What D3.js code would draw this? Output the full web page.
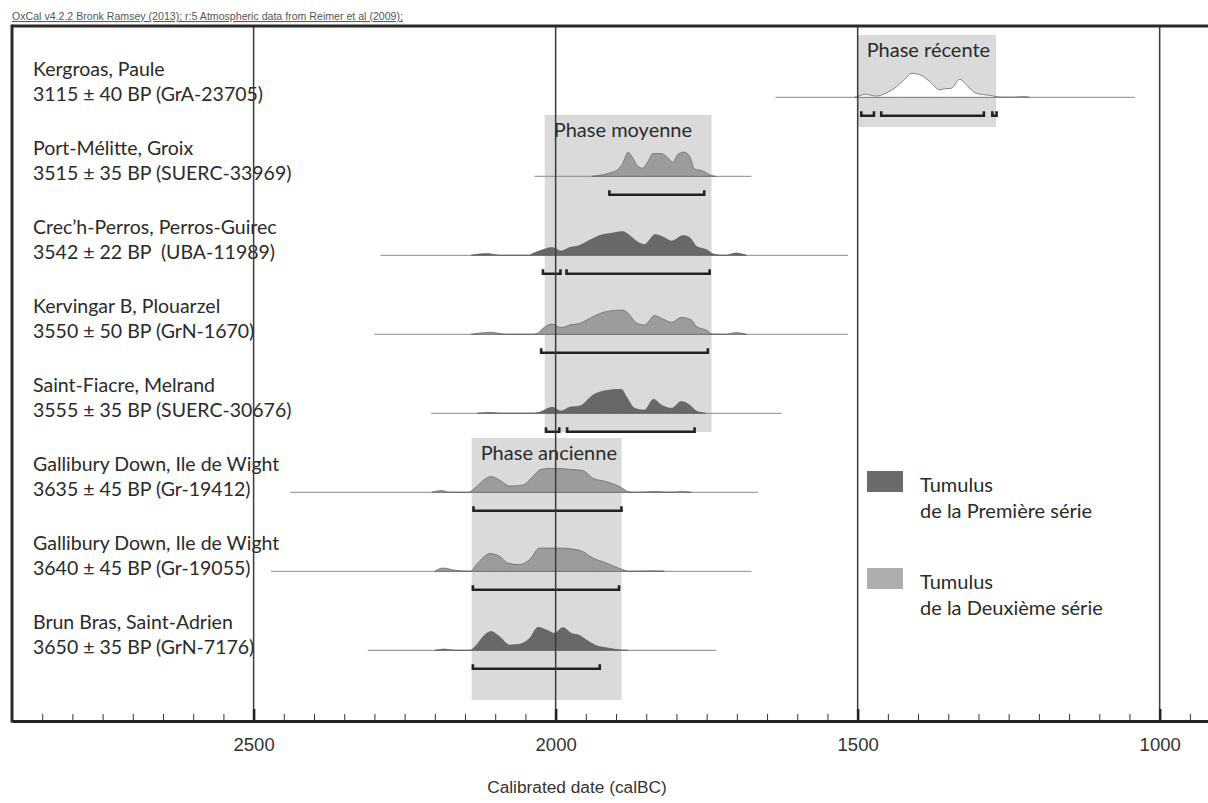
<!DOCTYPE html>
<html>
<head>
<meta charset="utf-8">
<script src="https://cdn.jsdelivr.net/npm/d3@7"></script>
<style>
  html, body { margin: 0; padding: 0; background: #fff; }
  svg { display: block; }
  text { white-space: pre; }
</style>
</head>
<body>
<svg id="chart" width="1208" height="803"></svg>
<script>
// ---------------- DATA ----------------
const siteNames = [
  "Kergroas, Paule",
  "Port-Mélitte, Groix",
  "Crec’h-Perros, Perros-Guirec",
  "Kervingar B, Plouarzel",
  "Saint-Fiacre, Melrand",
  "Gallibury Down, Ile de Wight",
  "Gallibury Down, Ile de Wight",
  "Brun Bras, Saint-Adrien"
];
const siteDates = [
  "3115 ± 40 BP (GrA-23705)",
  "3515 ± 35 BP (SUERC-33969)",
  "3542 ± 22 BP  (UBA-11989)",
  "3550 ± 50 BP (GrN-1670)",
  "3555 ± 35 BP (SUERC-30676)",
  "3635 ± 45 BP (Gr-19412)",
  "3640 ± 45 BP (Gr-19055)",
  "3650 ± 35 BP (GrN-7176)"
];
// series: 0 = none (outline only), 1 = Première série, 2 = Deuxième série
const siteSeries = [0, 2, 1, 2, 1, 2, 2, 1];

// extent of the thin baseline of each calibrated distribution (cal BC)
const baselineRanges = [
  [1636, 1041], [2035, 1676], [2290, 1516], [2300, 1516],
  [2206, 1626], [2440, 1665], [2471, 1676], [2311, 1734]
];

// calibrated probability distributions: [year calBC, relative probability]
const probKergroas = [[1505,0],[1500,0.03],[1488,0.12],[1469,0.05],[1452,0.18],[1436,0.42],[1424,0.68],[1410,0.96],[1397,0.9],[1381,0.64],[1364,0.3],[1356,0.34],[1345,0.36],[1331,0.72],[1320,0.5],[1304,0.16],[1282,0.08],[1260,0],[1240,0],[1227,0.03],[1215,0]];
const probPortMelitte = [[1940,0],[1933,0.02],[1911,0.13],[1897,0.27],[1889,0.52],[1880,0.96],[1872,0.72],[1864,0.4],[1856,0.33],[1847,0.6],[1839,0.91],[1825,0.91],[1814,0.73],[1806,0.56],[1798,0.87],[1788,0.97],[1778,0.8],[1770,0.29],[1759,0.24],[1742,0.03],[1735,0]];
const probCrechPerros = [[2140,0],[2115,0.07],[2090,0],[2045,0],[2038,0.07],[2024,0.2],[2006,0.31],[1991,0.17],[1977,0.31],[1963,0.37],[1944,0.6],[1927,0.79],[1905,0.89],[1889,0.95],[1878,0.8],[1864,0.53],[1853,0.43],[1844,0.63],[1836,0.83],[1822,0.73],[1808,0.57],[1789,0.79],[1778,0.71],[1767,0.36],[1751,0.23],[1737,0.04],[1720,0],[1701,0.09],[1684,0]];
const probKervingar = [[2140,0],[2109,0.08],[2080,0],[2040,0],[2030,0.04],[2021,0.24],[2006,0.41],[1991,0.27],[1977,0.37],[1960,0.44],[1938,0.71],[1916,0.91],[1889,0.97],[1880,0.84],[1867,0.47],[1853,0.37],[1836,0.75],[1822,0.61],[1808,0.48],[1792,0.68],[1775,0.57],[1767,0.31],[1751,0.17],[1740,0.01],[1720,0],[1701,0.07],[1684,0]];
const probSaintFiacre = [[2130,0],[2109,0.03],[2085,0],[2040,0],[2027,0.04],[2006,0.24],[1991,0.09],[1977,0.24],[1960,0.29],[1938,0.73],[1916,0.91],[1891,0.96],[1883,0.67],[1869,0.2],[1853,0.13],[1838,0.56],[1825,0.33],[1808,0.2],[1792,0.47],[1778,0.33],[1767,0.09],[1751,0]];
const probGallibury1 = [[2205,0],[2189,0.07],[2175,0],[2145,0],[2131,0.23],[2115,0.56],[2107,0.63],[2093,0.49],[2076,0.25],[2054,0.29],[2038,0.63],[2024,0.92],[2005,0.96],[1977,0.92],[1955,0.87],[1938,0.56],[1916,0.43],[1894,0.23],[1880,0.03],[1870,0],[1833,0.03],[1810,0],[1790,0.03],[1775,0]];
const probGallibury2 = [[2200,0],[2187,0.13],[2165,0.04],[2142,0],[2129,0.33],[2109,0.71],[2093,0.6],[2079,0.33],[2060,0.27],[2043,0.47],[2027,0.93],[2007,0.93],[1993,0.93],[1960,0.84],[1938,0.53],[1916,0.33],[1889,0.07],[1878,0],[1840,0.02],[1820,0]];
const probBrunBras = [[2200,0],[2184,0.05],[2165,0],[2142,0],[2131,0.21],[2120,0.55],[2107,0.75],[2093,0.55],[2076,0.21],[2060,0.24],[2043,0.48],[2029,0.92],[2015,0.81],[2002,0.68],[1988,0.91],[1974,0.68],[1960,0.59],[1949,0.41],[1933,0.19],[1911,0.08],[1891,0.01],[1880,0]];
const distributions = [probKergroas, probPortMelitte, probCrechPerros, probKervingar, probSaintFiacre, probGallibury1, probGallibury2, probBrunBras];

// 95.4% highest probability ranges (cal BC)
const hpdRanges = [
  [[1494,1473],[1461,1291],[1277,1270]],
  [[1911,1754]],
  [[2021,1992],[1982,1745]],
  [[2024,1748]],
  [[2016,1994],[1981,1770]],
  [[2136,1891]],
  [[2137,1895]],
  [[2137,1927]]
];

// phases
const phaseNames = ["Phase récente", "Phase moyenne", "Phase ancienne"];
const phaseSpans = [[1500, 1271], [2018, 1742], [2139, 1891]];

// axis
const majorTicks = [2500, 2000, 1500, 1000];
const xTitle = "Calibrated date (calBC)";
const header = "OxCal v4.2.2 Bronk Ramsey (2013); r:5 Atmospheric data from Reimer et al (2009);";
const legendLabels = [["Tumulus", "de la Première série"], ["Tumulus", "de la Deuxième série"]];

// ---------------- LAYOUT / STYLE ----------------
const W = 1208, H = 803;
const frameLeft = 12, frameTop = 26, axisY = 721;
const seriesFill = ["#ffffff", "#686868", "#9c9c9c"];
const legendFill = ["#6b6b6b", "#adadad"];
const labelFont = "Lato, 'Open Sans', sans-serif";
const phaseBoxesY = [[35, 127], [115, 432], [438, 700]];

const svg = d3.select("#chart");

const x = d3.scaleLinear().domain([2900, 920]).range([frameLeft, W]);
const rowY = d3.scalePoint().domain(d3.range(siteNames.length)).range([97.3, 650.3]);
const p = d3.scaleLinear().domain([0, 1]).range([0, 25]);

// header
svg.append("text")
  .attr("x", frameLeft).attr("y", 20)
  .attr("font-family", "'Liberation Sans', Arial, sans-serif")
  .attr("font-size", 10.6).attr("fill", "#555")
  .attr("text-decoration", "underline")
  .text(header);

// phase boxes
const gPh = svg.append("g");
phaseNames.forEach((nm, i) => {
  const [a, b] = phaseSpans[i];
  const [t, btm] = phaseBoxesY[i];
  gPh.append("rect")
    .attr("x", x(a)).attr("y", t)
    .attr("width", x(b) - x(a)).attr("height", btm - t)
    .attr("fill", "#dadada");
  gPh.append("text")
    .attr("x", x(a) + 9).attr("y", t + 22)
    .attr("font-family", labelFont).attr("font-size", 20)
    .attr("fill", "#2b2b2b")
    .text(nm);
});

// distributions
const gD = svg.append("g");
distributions.forEach((dist, i) => {
  const y0 = rowY(i);
  const br = baselineRanges[i];
  gD.append("line")
    .attr("x1", x(br[0])).attr("x2", x(br[1]))
    .attr("y1", y0).attr("y2", y0)
    .attr("stroke", "#8a8a8a").attr("stroke-width", 1);
  const area = d3.area()
    .x(d => x(d[0]))
    .y0(y0)
    .y1(d => y0 - p(d[1]))
    .curve(d3.curveMonotoneX);
  gD.append("path")
    .attr("d", area(dist.slice().reverse()))
    .attr("fill", seriesFill[siteSeries[i]])
    .attr("stroke", siteSeries[i] === 0 ? "#777" : "#555")
    .attr("stroke-width", siteSeries[i] === 0 ? 0.9 : 0.6);
  // hpd brackets
  hpdRanges[i].forEach(r => {
    const yb = y0 + 18.5;
    const x1 = x(r[0]), x2 = x(r[1]);
    gD.append("path")
      .attr("d", `M${x1},${yb - 4.5}L${x1},${yb}L${x2},${yb}L${x2},${yb - 4.5}`)
      .attr("fill", "none").attr("stroke", "#222").attr("stroke-width", 2.6);
  });
});

// labels
const gL = svg.append("g").attr("font-family", labelFont).attr("font-size", 19.5).attr("fill", "#2a2a2a");
siteNames.forEach((nm, i) => {
  gL.append("text").attr("x", 33).attr("y", rowY(i) - 21).text(nm);
  gL.append("text").attr("x", 33).attr("y", rowY(i) + 4).text(siteDates[i]);
});

// gridlines
svg.append("g").selectAll("line").data(majorTicks).join("line")
  .attr("x1", d => x(d)).attr("x2", d => x(d))
  .attr("y1", frameTop).attr("y2", axisY)
  .attr("stroke", "#3a3a3a").attr("stroke-width", 1.5);

// axis: minor ticks
const minorTicks = d3.range(2850, 920, -50).filter(t => !majorTicks.includes(t));
const axMinor = svg.append("g").attr("transform", `translate(0,${axisY})`)
  .call(d3.axisBottom(x).tickValues(minorTicks).tickSizeInner(-7).tickSizeOuter(0).tickFormat(""));
axMinor.select(".domain").remove();
axMinor.selectAll(".tick line").attr("stroke", "#333").attr("stroke-width", 1);

const axMajor = svg.append("g").attr("transform", `translate(0,${axisY})`)
  .call(d3.axisBottom(x).tickValues(majorTicks).tickSizeInner(-12).tickSizeOuter(0).tickPadding(17).tickFormat(d3.format("d")));
axMajor.select(".domain").attr("stroke", "#222").attr("stroke-width", 3);
axMajor.selectAll(".tick line").attr("stroke", "#222").attr("stroke-width", 2.5);
axMajor.selectAll(".tick text")
  .attr("font-family", "'Liberation Sans', Arial, sans-serif")
  .attr("font-size", 18.5).attr("fill", "#333");

// frame (top and left)
svg.append("line").attr("x1", frameLeft).attr("x2", W).attr("y1", frameTop).attr("y2", frameTop)
  .attr("stroke", "#2a2a2a").attr("stroke-width", 3);
svg.append("line").attr("x1", frameLeft).attr("x2", frameLeft).attr("y1", frameTop - 1.5).attr("y2", axisY + 1.5)
  .attr("stroke", "#2a2a2a").attr("stroke-width", 3);

// axis title
svg.append("text")
  .attr("x", 577).attr("y", 793).attr("text-anchor", "middle")
  .attr("font-family", "'Liberation Sans', Arial, sans-serif")
  .attr("font-size", 17.3).attr("fill", "#333")
  .text(xTitle);

// legend
const gLeg = svg.append("g").attr("font-family", labelFont).attr("font-size", 20).attr("fill", "#2a2a2a");
const legTop = [471, 568];
legendLabels.forEach((lines, i) => {
  gLeg.append("rect").attr("x", 867).attr("y", legTop[i]).attr("width", 36).attr("height", 21)
    .attr("fill", legendFill[i]);
  gLeg.append("text").attr("x", 920).attr("y", legTop[i] + 21).text(lines[0]);
  gLeg.append("text").attr("x", 920).attr("y", legTop[i] + 47).text(lines[1]);
});
</script>
</body>
</html>
